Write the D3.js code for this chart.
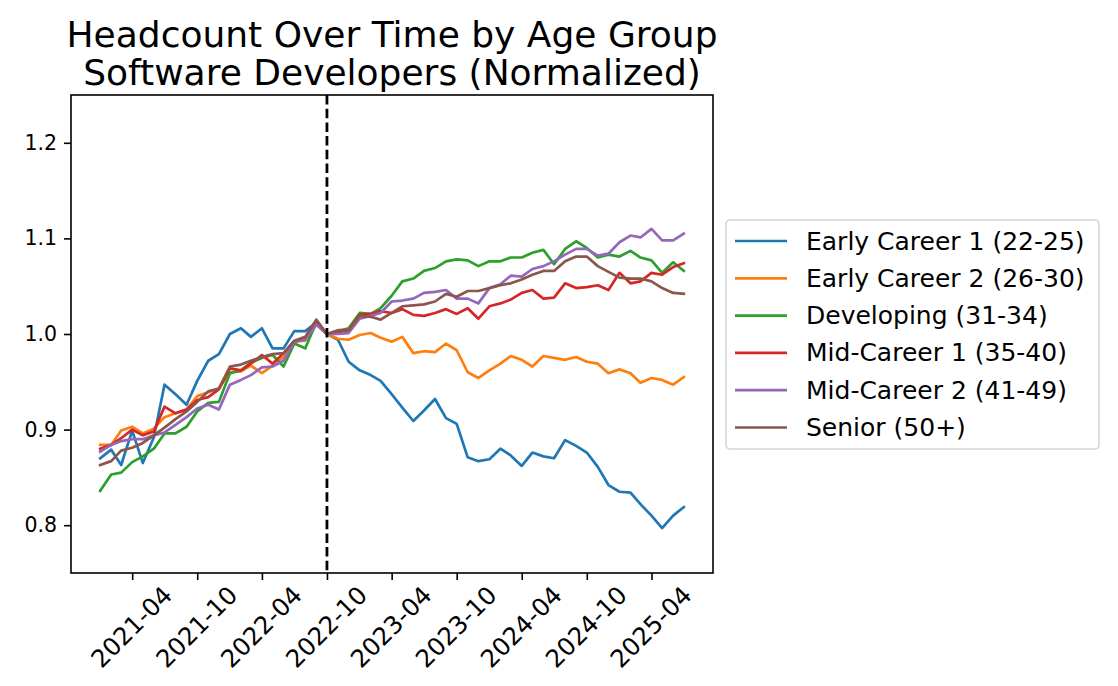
<!DOCTYPE html>
<html>
<head>
<meta charset="utf-8">
<script src="https://cdn.jsdelivr.net/npm/d3@7"></script>
<style>
body { margin: 0; background: #fff; }
text { font-family: "DejaVu Sans", sans-serif; }
</style>
</head>
<body>
<script>
const months = [
    '2021-01', '2021-02', '2021-03', '2021-04', '2021-05', '2021-06', '2021-07', '2021-08', '2021-09', '2021-10', '2021-11', '2021-12',
    '2022-01', '2022-02', '2022-03', '2022-04', '2022-05', '2022-06', '2022-07', '2022-08', '2022-09', '2022-10', '2022-11', '2022-12',
    '2023-01', '2023-02', '2023-03', '2023-04', '2023-05', '2023-06', '2023-07', '2023-08', '2023-09', '2023-10', '2023-11', '2023-12',
    '2024-01', '2024-02', '2024-03', '2024-04', '2024-05', '2024-06', '2024-07', '2024-08', '2024-09', '2024-10', '2024-11', '2024-12',
    '2025-01', '2025-02', '2025-03', '2025-04', '2025-05', '2025-06', '2025-07',
]

const earlyCareer1 = [
    0.870, 0.879, 0.863, 0.899, 0.865, 0.892, 0.947, 0.937, 0.926, 0.951, 0.972, 0.979,
    1.000, 1.006, 0.997, 1.006, 0.985, 0.985, 1.003, 1.003, 1.012, 1.000, 0.994, 0.971,
    0.962, 0.957, 0.951, 0.937, 0.923, 0.909, 0.920, 0.932, 0.912, 0.906, 0.871, 0.867,
    0.869, 0.880, 0.873, 0.862, 0.876, 0.872, 0.870, 0.889, 0.883, 0.876, 0.861, 0.842,
    0.835, 0.834, 0.822, 0.810, 0.797, 0.810, 0.819,
]
const earlyCareer2 = [
    0.884, 0.884, 0.899, 0.903, 0.896, 0.901, 0.913, 0.917, 0.921, 0.935, 0.939, 0.943,
    0.960, 0.961, 0.967, 0.959, 0.967, 0.976, 0.992, 0.993, 1.010, 1.000, 0.995, 0.994,
    0.999, 1.001, 0.996, 0.992, 0.997, 0.980, 0.982, 0.981, 0.990, 0.983, 0.960, 0.954,
    0.962, 0.969, 0.977, 0.973, 0.966, 0.977, 0.975, 0.973, 0.976, 0.971, 0.969, 0.959,
    0.963, 0.959, 0.949, 0.954, 0.952, 0.947, 0.955,
]
const developing = [
    0.836, 0.853, 0.855, 0.866, 0.872, 0.880, 0.896, 0.896, 0.903, 0.919, 0.928, 0.929,
    0.959, 0.962, 0.970, 0.975, 0.978, 0.966, 0.990, 0.985, 1.012, 1.000, 1.003, 1.006,
    1.022, 1.021, 1.027, 1.040, 1.055, 1.058, 1.066, 1.069, 1.076, 1.078, 1.077, 1.071,
    1.076, 1.076, 1.080, 1.080, 1.085, 1.088, 1.073, 1.089, 1.097, 1.090, 1.080, 1.083,
    1.081, 1.087, 1.080, 1.077, 1.064, 1.075, 1.066,
]
const midCareer1 = [
    0.880, 0.884, 0.891, 0.900, 0.894, 0.898, 0.924, 0.917, 0.921, 0.931, 0.934, 0.942,
    0.964, 0.962, 0.969, 0.978, 0.969, 0.980, 0.992, 0.995, 1.012, 1.000, 1.002, 1.004,
    1.020, 1.021, 1.024, 1.022, 1.026, 1.020, 1.019, 1.022, 1.026, 1.021, 1.027, 1.016,
    1.029, 1.032, 1.036, 1.043, 1.046, 1.037, 1.038, 1.053, 1.048, 1.049, 1.051, 1.046,
    1.064, 1.053, 1.055, 1.064, 1.062, 1.070, 1.074,
]
const midCareer2 = [
    0.877, 0.884, 0.888, 0.890, 0.890, 0.894, 0.897, 0.905, 0.913, 0.922, 0.926, 0.921,
    0.947, 0.952, 0.957, 0.965, 0.966, 0.972, 0.992, 0.994, 1.010, 1.000, 1.000, 1.001,
    1.016, 1.019, 1.022, 1.034, 1.035, 1.037, 1.043, 1.044, 1.046, 1.037, 1.037, 1.032,
    1.048, 1.052, 1.061, 1.060, 1.068, 1.071, 1.076, 1.083, 1.089, 1.089, 1.082, 1.084,
    1.096, 1.103, 1.101, 1.110, 1.098, 1.098, 1.105,
]
const senior = [
    0.863, 0.867, 0.878, 0.881, 0.886, 0.894, 0.902, 0.911, 0.919, 0.929, 0.940, 0.943,
    0.966, 0.968, 0.972, 0.976, 0.979, 0.980, 0.993, 0.997, 1.015, 1.000, 1.004, 1.004,
    1.019, 1.018, 1.015, 1.022, 1.029, 1.030, 1.031, 1.034, 1.042, 1.039, 1.045, 1.045,
    1.048, 1.051, 1.053, 1.057, 1.062, 1.066, 1.066, 1.076, 1.081, 1.081, 1.071, 1.065,
    1.059, 1.058, 1.058, 1.055, 1.048, 1.043, 1.042,
]

const seriesNames = [
    'Early Career 1 (22-25)',
    'Early Career 2 (26-30)',
    'Developing (31-34)',
    'Mid-Career 1 (35-40)',
    'Mid-Career 2 (41-49)',
    'Senior (50+)',
]
const seriesValues = [earlyCareer1, earlyCareer2, developing, midCareer1, midCareer2, senior]

const xTicks = ['2021-04', '2021-10', '2022-04', '2022-10', '2023-04', '2023-10', '2024-04', '2024-10', '2025-04']
const yTicks = [0.8, 0.9, 1.0, 1.1, 1.2]
const cutoffMonth = '2022-10'
const titleLines = ['Headcount Over Time by Age Group', 'Software Developers (Normalized)']

const colors = ['#1f77b4', '#ff7f0e', '#2ca02c', '#d62728', '#9467bd', '#8c564b']

let margin = { top: 95, right: 405, bottom: 113, left: 71 },
    width = 1118 - margin.left - margin.right,
    height = 686 - margin.top - margin.bottom;

const parse = d3.timeParse('%Y-%m')
const dates = months.map(parse)

const root = d3.select('body').append('svg')
    .attr('width', 1118)
    .attr('height', 686)

// title
const title = root.append('text')
    .attr('text-anchor', 'middle')
    .attr('font-size', 36)
    .attr('fill', '#000')
titleLines.map((str, i) => {
    title.append('tspan')
        .attr('x', margin.left + width / 2)
        .attr('y', 47 + i * 38)
        .text(str)
})

const svg = root.append('g')
    .attr('transform', `translate(${margin.left},${margin.top})`)

// scales, matplotlib-like 5% margin on dates
const t0 = dates[0], t1 = dates[dates.length - 1]
const pad = (t1 - t0) * 0.05
const x = d3.scaleTime().domain([new Date(+t0 - pad), new Date(+t1 + pad)]).range([0, width])
const y = d3.scaleLinear().domain([0.75, 1.25]).range([height, 0])

// axes
const yAxis = svg.append('g')
    .attr('class', 'axis axis--y')
    .call(d3.axisLeft(y).tickValues(yTicks).tickSize(7).tickPadding(7).tickFormat(d3.format('.1f')))
yAxis.select('.domain').remove()
yAxis.selectAll('line').attr('stroke', '#000').attr('stroke-width', 1.6)
yAxis.selectAll('text').attr('font-size', 20.5).attr('fill', '#000').attr('font-family', '"DejaVu Sans", sans-serif')

const xAxis = svg.append('g')
    .attr('class', 'axis axis--x')
    .attr('transform', `translate(0,${height})`)
    .call(d3.axisBottom(x).tickValues(xTicks.map(parse)).tickSize(7).tickFormat(d3.timeFormat('%Y-%m')))
xAxis.select('.domain').remove()
xAxis.selectAll('line').attr('stroke', '#000').attr('stroke-width', 1.6)
xAxis.selectAll('text')
    .attr('font-size', 24.5)
    .attr('fill', '#000')
    .attr('font-family', '"DejaVu Sans", sans-serif')
    .attr('y', 0)
    .attr('dy', null)
    .attr('text-anchor', 'middle')
    .attr('dominant-baseline', 'central')
    .attr('transform', 'translate(-1,54) rotate(-45)')

// lines
const line = d3.line()
    .x((d, i) => x(dates[i]))
    .y(d => y(d))

const lines = svg.append('g').attr('class', 'line-total')
seriesValues.map((vals, i) => {
    lines.append('path')
        .datum(vals)
        .attr('d', line)
        .attr('fill', 'none')
        .attr('stroke', colors[i])
        .attr('stroke-width', 2.7)
        .attr('stroke-linejoin', 'round')
        .attr('stroke-linecap', 'square')
})

// cutoff
svg.append('line')
    .attr('x1', x(parse(cutoffMonth)))
    .attr('x2', x(parse(cutoffMonth)))
    .attr('y1', 0)
    .attr('y2', height)
    .attr('stroke', '#000')
    .attr('stroke-width', 2.8)
    .attr('stroke-dasharray', '9.5,4.2')

// spines
svg.append('rect')
    .attr('width', width)
    .attr('height', height)
    .attr('fill', 'none')
    .attr('stroke', '#000')
    .attr('stroke-width', 1.6)

// legend
const legend = root.append('g')
    .attr('class', 'sign')
    .attr('transform', 'translate(726,220)')
legend.append('rect')
    .attr('width', 373)
    .attr('height', 229)
    .attr('rx', 4)
    .attr('fill', '#fff')
    .attr('stroke', '#d6d6d6')
    .attr('stroke-width', 1.6)
seriesNames.map((str, i) => {
    const h = 21 + i * 37.3
    legend.append('line')
        .attr('x1', 9)
        .attr('x2', 61)
        .attr('y1', h)
        .attr('y2', h)
        .attr('stroke', colors[i])
        .attr('stroke-width', 2.7)
    legend.append('text')
        .attr('x', 80)
        .attr('y', h)
        .attr('dominant-baseline', 'central')
        .attr('font-size', 25)
        .attr('fill', '#000')
        .text(str)
})
</script>
</body>
</html>
